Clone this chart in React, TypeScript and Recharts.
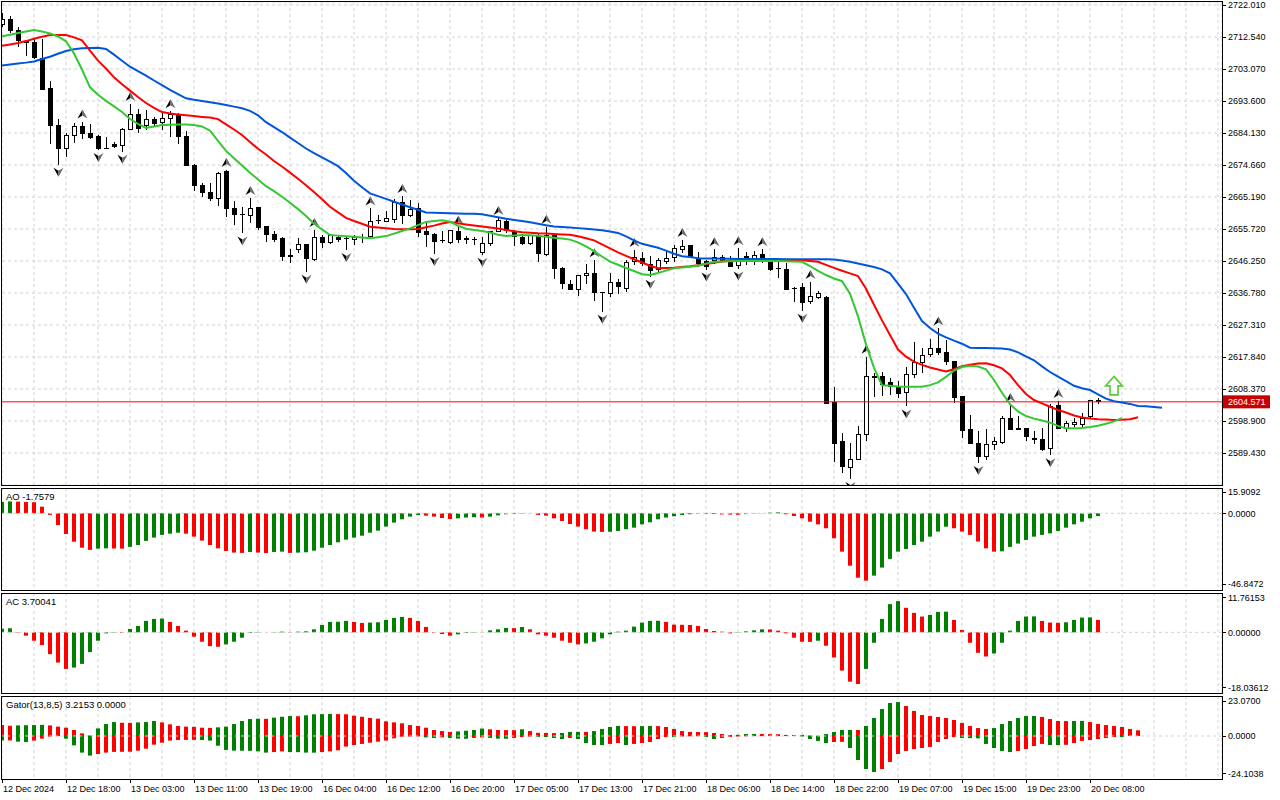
import React from "react";
import {
  ComposedChart,
  Bar,
  Line,
  XAxis,
  YAxis,
  CartesianGrid,
  ReferenceLine,
  ReferenceDot,
  Cell,
} from "recharts";

const FONT = "'Liberation Sans', Arial, sans-serif";
const GREEN = "#008000";
const RED = "#ff0000";
const GRID = "#d2d2d2";

// ---------- price candles (H1, 12 Dec 10:00 .. 20 Dec 09:00) ----------
const opens = [
  2716.1, 2717.8, 2714.6, 2711.2, 2710.9, 2706.2, 2697.3, 2686.4, 2679.6, 2683.5,
  2686.2, 2684.0, 2683.0, 2679.6, 2680.6, 2680.5, 2685.2, 2689.7, 2686.3, 2688.0,
  2687.2, 2688.3, 2689.5, 2683.0, 2674.6, 2668.6, 2666.6, 2664.8, 2672.6, 2661.8,
  2660.0, 2659.8, 2662.1, 2656.4, 2654.2, 2652.8, 2648.0, 2649.8, 2651.2, 2646.8,
  2653.3, 2651.7, 2653.3, 2652.8, 2652.6, 2653.0, 2653.5, 2658.0, 2658.0, 2658.6,
  2663.6, 2659.6, 2661.8, 2654.9, 2654.1, 2652.2, 2651.8, 2655.1, 2653.0, 2652.7,
  2648.7, 2651.5, 2654.9, 2657.9, 2654.9, 2653.3, 2651.5, 2653.7, 2648.3, 2653.7,
  2644.1, 2639.4, 2637.9, 2642.1, 2642.6, 2636.9, 2636.7, 2639.9, 2638.2, 2646.0,
  2647.0, 2645.3, 2643.6, 2646.0, 2647.3, 2649.7, 2650.7, 2647.0, 2646.0, 2646.5,
  2647.2, 2645.8, 2644.8, 2647.5, 2646.9, 2648.2, 2645.7, 2644.0, 2643.8, 2638.2,
  2638.4, 2634.4, 2635.5, 2635.5, 2604.4, 2592.8, 2585.1, 2587.6, 2594.9, 2612.2,
  2612.0, 2610.2, 2608.8, 2607.2, 2612.8, 2616.2, 2618.5, 2620.3, 2619.2, 2616.6,
  2606.1, 2596.3, 2592.3, 2588.3, 2591.8, 2592.5, 2599.5, 2596.6, 2596.6, 2593.8,
  2593.5, 2590.8, 2603.6, 2596.7, 2598.0, 2597.9, 2600.2, 2604.9,
];
const highs = [
  2719.5, 2718.8, 2715.4, 2711.8, 2711.9, 2711.9, 2699.5, 2688.3, 2684.2, 2687.0,
  2687.5, 2686.8, 2683.5, 2683.0, 2681.5, 2685.5, 2692.7, 2691.2, 2691.0, 2688.8,
  2690.0, 2690.6, 2690.0, 2684.7, 2674.9, 2669.4, 2669.4, 2672.5, 2673.2, 2664.0,
  2662.3, 2664.9, 2662.1, 2656.7, 2655.2, 2653.3, 2649.7, 2653.0, 2651.2, 2655.4,
  2654.0, 2654.2, 2654.0, 2653.3, 2654.0, 2654.2, 2661.8, 2659.8, 2661.1, 2664.5,
  2665.5, 2664.3, 2663.3, 2657.9, 2654.4, 2655.0, 2655.4, 2656.2, 2653.7, 2653.5,
  2653.5, 2655.1, 2659.0, 2658.4, 2655.4, 2654.0, 2654.0, 2654.4, 2656.4, 2654.4,
  2644.4, 2640.6, 2642.1, 2645.3, 2646.5, 2637.0, 2642.8, 2641.0, 2646.5, 2649.5,
  2648.8, 2647.6, 2647.0, 2649.4, 2651.0, 2652.5, 2651.0, 2649.0, 2646.6, 2649.7,
  2648.0, 2647.8, 2650.0, 2648.8, 2649.3, 2649.7, 2646.7, 2646.5, 2645.6, 2638.6,
  2639.8, 2640.0, 2637.5, 2636.0, 2609.0, 2595.4, 2592.3, 2597.4, 2617.9, 2613.0,
  2613.5, 2611.7, 2610.8, 2615.0, 2622.3, 2620.4, 2623.2, 2626.3, 2622.8, 2616.7,
  2606.1, 2600.7, 2596.0, 2596.5, 2594.3, 2600.5, 2603.6, 2600.5, 2596.6, 2595.8,
  2596.8, 2603.8, 2604.8, 2598.8, 2599.7, 2601.4, 2605.1, 2605.6,
];
const lows = [
  2715.5, 2713.8, 2709.5, 2707.0, 2705.9, 2696.8, 2680.9, 2674.7, 2677.1, 2681.3,
  2682.5, 2682.3, 2679.1, 2679.4, 2679.6, 2678.6, 2685.0, 2684.0, 2685.0, 2686.0,
  2685.0, 2683.0, 2680.8, 2674.6, 2666.9, 2665.1, 2664.0, 2662.6, 2659.3, 2656.9,
  2654.4, 2657.6, 2655.5, 2652.0, 2652.0, 2646.3, 2645.7, 2648.5, 2643.1, 2646.3,
  2650.2, 2651.3, 2652.0, 2649.5, 2651.0, 2651.7, 2653.3, 2657.2, 2657.9, 2657.6,
  2657.3, 2659.3, 2653.5, 2650.5, 2648.3, 2651.7, 2651.2, 2651.7, 2651.4, 2651.0,
  2648.1, 2650.8, 2654.7, 2654.4, 2650.7, 2651.0, 2651.0, 2646.0, 2647.7, 2640.8,
  2637.9, 2637.9, 2636.0, 2639.4, 2634.5, 2631.2, 2635.5, 2636.5, 2637.2, 2645.1,
  2644.9, 2641.6, 2643.0, 2645.3, 2646.0, 2648.7, 2647.2, 2644.6, 2643.7, 2645.5,
  2645.9, 2644.6, 2644.0, 2645.2, 2645.2, 2645.8, 2643.4, 2641.1, 2637.7, 2634.0,
  2631.5, 2633.5, 2635.0, 2603.8, 2586.9, 2583.6, 2581.7, 2587.3, 2592.9, 2606.1,
  2606.3, 2606.7, 2605.6, 2603.2, 2611.5, 2613.0, 2617.8, 2618.4, 2615.5, 2604.1,
  2594.0, 2592.1, 2586.5, 2587.5, 2590.3, 2592.0, 2596.2, 2596.2, 2592.9, 2592.1,
  2590.0, 2588.8, 2596.4, 2595.5, 2597.1, 2597.0, 2599.7, 2603.9,
];
const closes = [
  2717.8, 2714.6, 2711.4, 2710.8, 2706.5, 2697.1, 2686.3, 2679.6, 2683.5, 2686.2,
  2684.0, 2682.7, 2679.4, 2679.5, 2680.2, 2685.3, 2689.7, 2685.5, 2688.0, 2687.0,
  2688.3, 2689.5, 2683.0, 2674.6, 2668.5, 2666.5, 2664.6, 2672.2, 2661.8, 2660.0,
  2659.8, 2661.8, 2656.1, 2654.2, 2652.7, 2647.5, 2647.5, 2651.2, 2647.0, 2653.3,
  2651.7, 2653.7, 2652.7, 2652.7, 2653.3, 2653.2, 2657.9, 2658.2, 2658.8, 2663.6,
  2659.8, 2661.6, 2654.7, 2654.2, 2652.0, 2652.1, 2655.2, 2652.7, 2652.5, 2652.5,
  2651.5, 2654.9, 2658.1, 2655.2, 2653.6, 2651.3, 2653.7, 2648.5, 2653.7, 2644.1,
  2639.6, 2637.9, 2641.9, 2642.6, 2636.9, 2636.7, 2639.8, 2638.6, 2645.7, 2647.3,
  2645.4, 2643.4, 2646.3, 2647.0, 2650.0, 2650.5, 2647.5, 2645.5, 2644.7, 2647.3,
  2646.3, 2644.6, 2647.0, 2646.5, 2647.9, 2646.3, 2643.6, 2643.9, 2637.9, 2638.0,
  2634.0, 2635.7, 2636.5, 2604.1, 2592.3, 2585.4, 2587.5, 2595.0, 2612.0, 2611.7,
  2609.8, 2609.2, 2606.9, 2612.8, 2616.2, 2618.4, 2620.3, 2619.3, 2616.4, 2605.9,
  2596.0, 2592.3, 2588.3, 2591.8, 2592.8, 2599.7, 2596.4, 2596.3, 2594.2, 2593.5,
  2590.6, 2603.2, 2596.7, 2598.2, 2598.4, 2599.7, 2604.9, 2604.571,
];

// ---------- Alligator (shifted lines as displayed) ----------
const jaw = [
  2704.11, 2704.40, 2704.70, 2704.96, 2705.32, 2706.03, 2706.71, 2707.60, 2708.40, 2708.90,
  2709.23, 2709.28, 2709.37, 2709.02, 2707.33, 2705.53, 2703.75, 2702.45, 2701.12, 2699.67,
  2698.27, 2696.91, 2695.67, 2694.40, 2693.95, 2693.60, 2693.24, 2692.83, 2692.39, 2691.94,
  2691.44, 2690.70, 2689.37, 2687.32, 2685.87, 2684.42, 2682.77, 2681.17, 2679.54, 2678.21,
  2676.91, 2675.66, 2674.33, 2672.29, 2669.98, 2668.09, 2666.28, 2665.45, 2664.63, 2663.80,
  2662.97, 2662.17, 2661.40, 2660.60, 2660.51, 2660.45, 2660.39, 2660.33, 2660.27, 2660.22,
  2660.07, 2659.62, 2659.18, 2658.77, 2658.41, 2658.08, 2657.70, 2657.26, 2656.81, 2656.43,
  2656.28, 2656.13, 2655.98, 2655.78, 2655.57, 2655.36, 2655.01, 2654.56, 2653.56, 2652.37,
  2651.34, 2650.75, 2650.15, 2649.32, 2648.41, 2647.67, 2647.40, 2647.10, 2647.02, 2646.96,
  2646.93, 2646.90, 2646.84, 2646.84, 2646.84, 2646.84, 2646.84, 2646.81, 2646.78, 2646.78,
  2646.75, 2646.75, 2646.75, 2646.75, 2646.72, 2646.40, 2646.04, 2645.51, 2645.00, 2644.47,
  2643.79, 2642.61, 2639.53, 2636.45, 2632.40, 2628.49, 2626.42, 2624.76, 2623.64, 2622.69,
  2621.77, 2620.59, 2620.53, 2620.50, 2620.44, 2620.35, 2620.03, 2619.23, 2618.04, 2616.86,
  2615.08, 2613.40, 2612.03, 2610.67, 2609.31, 2608.57, 2608.07, 2606.80, 2605.52, 2604.73,
  2604.37, 2603.96, 2603.36, 2603.24, 2603.04, 2602.83,
];
const teeth = [
  2709.96, 2710.35, 2710.76, 2711.33, 2712.01, 2712.60, 2713.13, 2713.13, 2713.13, 2712.42,
  2711.56, 2708.54, 2705.53, 2703.22, 2700.61, 2698.54, 2696.68, 2694.78, 2693.01, 2691.59,
  2690.34, 2689.90, 2689.63, 2689.37, 2689.13, 2688.89, 2688.69, 2688.24, 2686.70, 2685.16,
  2683.54, 2681.49, 2679.45, 2677.77, 2675.84, 2674.21, 2672.41, 2670.57, 2668.68, 2666.67,
  2664.51, 2662.32, 2660.66, 2659.03, 2658.08, 2657.26, 2656.40, 2656.16, 2655.95, 2655.72,
  2655.63, 2655.63, 2655.72, 2656.22, 2656.72, 2657.35, 2657.82, 2657.43, 2657.08, 2656.75,
  2656.46, 2656.16, 2655.87, 2655.45, 2655.07, 2654.74, 2654.59, 2654.44, 2654.36, 2654.24,
  2654.12, 2654.00, 2653.59, 2653.00, 2652.37, 2651.19, 2650.01, 2648.82, 2647.79, 2646.78,
  2645.80, 2644.86, 2644.09, 2644.18, 2644.29, 2644.47, 2644.68, 2645.00, 2645.36, 2645.74,
  2646.10, 2646.31, 2646.48, 2646.54, 2646.54, 2646.54, 2646.54, 2646.54, 2646.54, 2646.54,
  2646.48, 2646.25, 2646.01, 2645.12, 2644.23, 2643.38, 2642.58, 2641.81, 2638.05, 2633.31,
  2628.67, 2624.35, 2620.03, 2617.95, 2616.47, 2615.50, 2614.73, 2614.13, 2613.54, 2614.23,
  2615.08, 2615.56, 2615.91, 2616.00, 2615.41, 2614.46, 2612.51, 2609.52, 2606.89, 2605.11,
  2604.13, 2603.13, 2602.15, 2601.41, 2600.52, 2599.93, 2599.61, 2599.40, 2599.31, 2599.22,
  2599.25, 2599.40, 2599.99,
];
const lips = [
  2712.75, 2713.22, 2713.72, 2714.20, 2714.58, 2714.17, 2713.58, 2712.69, 2711.27, 2707.66,
  2702.92, 2697.65, 2695.43, 2693.63, 2692.00, 2690.34, 2688.27, 2686.85, 2685.61, 2686.05,
  2686.53, 2686.59, 2686.64, 2686.67, 2686.53, 2686.08, 2684.81, 2681.82, 2678.83, 2676.64,
  2674.48, 2672.38, 2670.40, 2668.38, 2666.93, 2665.28, 2663.50, 2661.61, 2659.57, 2657.26,
  2655.60, 2653.94, 2653.76, 2653.59, 2653.41, 2653.20, 2652.97, 2653.29, 2653.62, 2654.36,
  2655.13, 2655.92, 2656.87, 2657.82, 2658.08, 2658.29, 2657.88, 2656.69, 2655.78, 2655.45,
  2655.13, 2654.68, 2654.03, 2653.68, 2653.79, 2653.94, 2653.85, 2653.71, 2653.44, 2653.14,
  2652.88, 2652.58, 2651.78, 2650.60, 2649.18, 2647.58, 2646.04, 2645.15, 2644.18, 2643.29,
  2642.34, 2642.10, 2642.70, 2643.41, 2644.12, 2644.32, 2644.56, 2644.86, 2645.48, 2646.04,
  2646.10, 2646.16, 2646.25, 2646.25, 2646.25, 2646.25, 2646.25, 2646.22, 2646.16, 2646.10,
  2646.01, 2644.77, 2643.35, 2642.10, 2641.07, 2640.27, 2636.60, 2629.85, 2621.57, 2614.64,
  2609.49, 2609.31, 2609.11, 2609.05, 2609.05, 2609.05, 2609.52, 2610.32, 2611.95, 2613.84,
  2614.88, 2615.26, 2615.02, 2614.17, 2611.03, 2607.27, 2603.87, 2601.74, 2600.37, 2599.61,
  2599.04, 2598.42, 2597.47, 2596.73, 2596.73, 2596.82, 2597.12, 2597.50, 2598.07, 2598.78,
  2599.70,
];

// ---------- fractals (bar indexes) ----------
const fractalUpBars = [10, 16, 21, 28, 31, 39, 46, 50, 57, 62, 68, 74, 79, 85, 89, 92, 95, 101, 108, 117, 126, 132];
const fractalDownBars = [7, 12, 15, 30, 38, 43, 54, 60, 75, 81, 88, 92, 100, 106, 113, 122, 131];

// ---------- signal arrow ----------
const signalBar = 139;
const signalPrice = 2609.3;
const lastPrice = 2604.571;

// ---------- Awesome Oscillator ----------
const ao = [
  7.2, 7.5, 7.4, 7.2, 7.0, 4.2, -1.0, -7.4, -13.1, -18.0,
  -21.8, -23.2, -22.4, -22.2, -22.3, -22.4, -21.3, -20.1, -17.5, -15.4,
  -13.7, -12.9, -12.3, -12.9, -14.8, -17.3, -20.1, -22.2, -23.9, -24.9,
  -25.1, -24.5, -24.9, -25.2, -24.5, -24.3, -25.1, -24.9, -24.7, -23.7,
  -21.8, -20.1, -18.4, -16.7, -15.4, -14.2, -12.3, -11.0, -8.4, -5.9,
  -3.8, -2.1, -1.1, -1.5, -2.1, -3.0, -3.6, -3.2, -2.7, -2.5,
  -2.7, -2.1, -1.3, -0.6, -0.4, -0.2, -0.1, -1.0, -1.5, -3.2,
  -4.9, -6.8, -8.4, -10.1, -11.6, -11.8, -11.7, -11.2, -10.1, -9.1,
  -7.0, -5.7, -3.8, -2.7, -1.9, -1.1, -0.6, -0.3, -0.4, -0.5,
  -0.7, -0.8, -0.9, -0.5, -0.2, 0.1, 0.4, 0.6, -0.6, -1.7,
  -3.2, -5.3, -7.0, -9.5, -15.8, -24.3, -33.2, -40.8, -42.7, -39.5,
  -34.4, -28.9, -24.3, -22.6, -20.1, -18.0, -14.8, -11.6, -8.5, -9.5,
  -11.6, -13.7, -17.9, -22.2, -24.3, -24.1, -21.3, -19.2, -16.9, -14.8,
  -13.7, -12.7, -11.2, -9.1, -7.0, -5.3, -3.2, -1.7579,
];

// ---------- Accelerator Oscillator ----------
const ac = [
  1.1, 1.2, -0.1, -1.0, -2.5, -3.8, -6.5, -9.0, -10.9, -10.5,
  -9.4, -5.9, -2.5, -0.3, -0.1, -0.2, 1.0, 1.9, 3.4, 4.0,
  4.1, 3.1, 1.9, 0.5, -1.3, -2.8, -4.1, -4.3, -3.6, -2.8,
  -1.6, -0.2, -0.1, 0.0, 0.1, 0.2, 0.1, 0.2, 0.3, 0.9,
  2.2, 3.1, 3.15, 3.4, 3.1, 2.8, 2.9, 3.0, 3.7, 4.3,
  4.6, 4.3, 3.4, 1.6, -0.2, -0.5, -1.0, -0.6, -0.2, 0.1,
  0.05, 0.6, 0.9, 1.3, 1.25, 1.6, 0.9, -0.6, -1.0, -1.6,
  -2.5, -3.1, -3.6, -3.3, -2.8, -1.8, -0.6, 0.2, 0.5, 1.7,
  2.9, 3.4, 3.45, 3.1, 2.3, 2.25, 2.2, 1.9, 1.0, 0.4,
  0.2, -0.3, -0.1, 0.3, 0.6, 0.9, 0.85, 0.5, -0.3, -1.6,
  -2.8, -2.85, -2.5, -4.0, -7.5, -11.4, -14.7, -15.4, -10.9, -3.1,
  4.0, 8.4, 9.3, 7.3, 5.8, 4.7, 5.2, 6.1, 6.15, 3.7,
  0.7, -3.1, -6.1, -7.2, -6.3, -3.1, 0.5, 3.4, 4.7, 4.75,
  3.4, 2.9, 2.85, 3.0, 3.7, 4.4, 4.45, 3.70041,
];

// ---------- Gator Oscillator ----------
const gatorUp = [
  6.2, 5.8, 6.0, 6.1, 6.2, 6.3, 6.0, 5.3, 4.7, 3.4,
  1.5, 0.3, 4.3, 6.8, 7.9, 7.5, 7.4, 7.7, 7.9, 8.5,
  7.7, 6.6, 5.7, 5.3, 5.2, 4.7, 4.6, 4.9, 5.3, 6.8,
  8.5, 9.6, 9.8, 9.7, 10.4, 10.9, 11.3, 11.2, 11.7, 12.3,
  12.4, 12.5, 12.4, 12.3, 11.5, 10.9, 10.2, 9.8, 8.3, 7.7,
  7.2, 6.2, 5.7, 4.7, 3.4, 2.8, 2.3, 2.6, 3.0, 3.4,
  4.2, 3.8, 3.4, 3.35, 3.3, 3.8, 2.8, 1.8, 1.7, 1.65,
  1.7, 2.3, 2.35, 2.3, 2.8, 4.0, 5.1, 5.7, 5.6, 5.55,
  5.6, 5.7, 5.6, 5.1, 4.0, 2.8, 2.3, 2.25, 2.2, 1.7,
  1.1, 0.6, 0.65, 1.1, 1.15, 1.1, 1.05, 1.0, 0.6, 0.55,
  0.6, 0.3, 0.2, 1.1, 2.3, 3.4, 3.45, 3.4, 5.7, 10.2,
  15.3, 18.7, 19.2, 17.0, 14.2, 11.9, 11.3, 10.8, 10.2, 9.1,
  7.4, 5.7, 4.5, 4.0, 4.5, 6.8, 8.5, 10.2, 11.3, 11.35,
  10.8, 9.6, 8.5, 8.45, 8.5, 8.55, 7.9, 6.8, 6.2, 5.7,
  5.1, 4.0, 3.2153,
];
const gatorDown = [
  -2.6, -2.5, -3.2, -3.4, -2.6, -1.5, -0.4, -0.1, -1.5, -5.3,
  -9.4, -11.1, -10.2, -9.4, -9.0, -8.95, -8.9, -8.3, -7.2, -4.9,
  -3.8, -2.6, -2.3, -2.25, -2.2, -2.3, -2.6, -5.5, -7.9, -8.3,
  -8.35, -8.4, -8.7, -9.4, -9.1, -8.7, -9.1, -9.15, -9.4, -9.45,
  -9.1, -8.7, -8.1, -6.0, -5.1, -4.5, -3.8, -3.2, -2.6, -1.3,
  -0.4, -0.35, -0.3, -0.8, -1.1, -0.8, -1.1, -1.5, -1.55, -1.1,
  -0.8, -1.1, -1.5, -1.55, -1.1, -0.6, -0.4, -0.5, -0.6, -1.1,
  -1.7, -1.1, -1.7, -4.0, -5.1, -5.15, -4.5, -4.0, -5.1, -4.5,
  -4.0, -3.4, -1.7, -0.6, -0.65, -0.3, -0.2, -0.15, -0.6, -1.7,
  -1.1, -0.5, -0.3, -0.2, -0.1, -0.1, -0.05, -0.1, -0.05, -0.02,
  -0.3, -1.7, -2.8, -4.0, -3.4, -3.3, -6.8, -13.6, -18.7, -20.4,
  -18.7, -14.7, -10.2, -8.5, -7.4, -6.8, -6.2, -3.4, -1.7, -0.6,
  -1.1, -1.2, -1.3, -4.5, -6.8, -8.5, -9.1, -8.5, -7.4, -5.7,
  -4.5, -5.1, -5.15, -5.0, -4.0, -2.8, -2.3, -1.7, -1.1, -0.6,
  -0.65, 0, 0,
];

// ---------- axis tick labels ----------
const priceTicks = [
  2722.01, 2712.54, 2703.07, 2693.6, 2684.13, 2674.66, 2665.19, 2655.72,
  2646.25, 2636.78, 2627.31, 2617.84, 2608.37, 2598.9, 2589.43,
];
const aoTicks = [15.9092, 0, -46.8472];
const acTicks = [11.76153, 0, -18.03612];
const gatorTicks = [23.07, 0, -24.1038];
const timeLabelBars = [0, 8, 16, 24, 32, 40, 48, 56, 64, 72, 80, 88, 96, 104, 112, 120, 128, 136];
const timeLabels = [
  "12 Dec 2024", "12 Dec 18:00", "13 Dec 03:00", "13 Dec 11:00", "13 Dec 19:00",
  "16 Dec 04:00", "16 Dec 12:00", "16 Dec 20:00", "17 Dec 05:00", "17 Dec 13:00",
  "17 Dec 21:00", "18 Dec 06:00", "18 Dec 14:00", "18 Dec 22:00", "19 Dec 07:00",
  "19 Dec 15:00", "19 Dec 23:00", "20 Dec 08:00",
];

// ---------- tables for the library ----------
const X_DOMAIN: [number, number] = [0, 152.5];
const gridTicks = Array.from({ length: 39 }, (_, k) => k * 4);
const upSet = new Set(fractalUpBars);
const downSet = new Set(fractalDownBars);

const mainRows = jaw.map((j, i) => ({
  i,
  o: opens[i],
  h: highs[i],
  l: lows[i],
  c: closes[i],
  range: i < opens.length ? [lows[i], highs[i]] : null,
  jaw: j,
  teeth: i < teeth.length ? teeth[i] : null,
  lips: i < lips.length ? lips[i] : null,
}));
const aoRows = ao.map((v, i) => ({ i, v }));
const acRows = ac.map((v, i) => ({ i, v }));
const gatorRows = gatorUp.map((u, i) => ({ i, u, d: gatorDown[i] }));

const risingColor = (arr: number[], i: number, first: string) =>
  i === 0 ? first : arr[i] > arr[i - 1] ? GREEN : RED;
const wideningColor = (arr: number[], i: number, first: string) =>
  i === 0 ? first : Math.abs(arr[i]) > Math.abs(arr[i - 1]) ? GREEN : RED;

// ---------- shapes ----------
function Candle(props: any) {
  const { x, y, width, height, payload } = props;
  if (!payload || payload.o == null || payload.h == null) return null;
  const { o, h, l, c, i } = payload;
  const top = Math.min(y, y + height);
  const span = Math.abs(height);
  const py = (p: number) => top + ((h - p) / (h - l || 1)) * span;
  const cx = Math.round(x + width / 2);
  const yHigh = py(h);
  const yLow = py(l);
  const bTop = py(Math.max(o, c));
  const bBot = py(Math.min(o, c));
  const bull = c > o;
  const bodyH = Math.max(bBot - bTop, 0);
  return (
    <g shapeRendering="crispEdges">
      <line x1={cx + 0.5} x2={cx + 0.5} y1={yHigh} y2={yLow} stroke="#000" strokeWidth={1} />
      {bodyH < 1 ? (
        <line x1={cx - 2} x2={cx + 3} y1={bTop} y2={bTop} stroke="#000" strokeWidth={1} />
      ) : (
        <rect
          x={cx - 1.5}
          y={bTop}
          width={4}
          height={bodyH}
          fill={bull ? "#fff" : "#000"}
          stroke="#000"
          strokeWidth={1}
        />
      )}
      {upSet.has(i) && (
        <g shapeRendering="auto">
          <polygon points={`${cx + 0.5},${yHigh - 12} ${cx - 4.5},${yHigh - 3} ${cx + 0.5},${yHigh - 6}`} fill="#000" />
          <polygon points={`${cx + 0.5},${yHigh - 12} ${cx + 5.5},${yHigh - 3} ${cx + 0.5},${yHigh - 6}`} fill="#6a6a6a" />
        </g>
      )}
      {downSet.has(i) && (
        <g shapeRendering="auto">
          <polygon points={`${cx + 0.5},${yLow + 12} ${cx - 4.5},${yLow + 3} ${cx + 0.5},${yLow + 6}`} fill="#000" />
          <polygon points={`${cx + 0.5},${yLow + 12} ${cx + 5.5},${yLow + 3} ${cx + 0.5},${yLow + 6}`} fill="#6a6a6a" />
        </g>
      )}
    </g>
  );
}

function SignalArrow({ cx, cy }: { cx: number; cy: number }) {
  const pts = [
    [cx, cy - 9.5],
    [cx + 8.5, cy],
    [cx + 4, cy],
    [cx + 4, cy + 9],
    [cx - 4, cy + 9],
    [cx - 4, cy],
    [cx - 8.5, cy],
  ]
    .map((p) => p.join(","))
    .join(" ");
  return (
    <g>
      <polygon points={pts} fill="#ffffff" stroke="#55cc33" strokeWidth={1.6} strokeLinejoin="miter" />
    </g>
  );
}

function PriceTag(props: any) {
  const vb = props.viewBox || {};
  const x = (vb.x || 0) + (vb.width || 0);
  const y = vb.y || 0;
  return (
    <g>
      <rect x={x + 1} y={y - 6.5} width={47} height={13} fill="#c80000" />
      <text x={x + 6} y={y} dy="0.36em" fontSize={9} fontFamily={FONT} fill="#fff">
        {lastPrice.toFixed(3)}
      </text>
    </g>
  );
}

function AxisTick(props: any) {
  const { x, y, payload, digits, maxV, minV, topShift = 0, bottomShift = 0 } = props;
  const v = payload.value as number;
  let ty = y;
  if (maxV != null && v === maxV) ty += topShift;
  if (minV != null && v === minV) ty += bottomShift;
  const yy = Math.round(ty) + 0.5;
  return (
    <g>
      <line x1={x} x2={x + 4} y1={yy} y2={yy} stroke="#000" strokeWidth={1} shapeRendering="crispEdges" />
      <text x={x + 6} y={ty} dy="0.36em" fontSize={9} fontFamily={FONT} fill="#000" textAnchor="start">
        {v.toFixed(digits)}
      </text>
    </g>
  );
}

function TimeTick(props: any) {
  const { x, y, payload } = props;
  const k = timeLabelBars.indexOf(payload.value);
  if (k < 0) return null;
  const xx = Math.round(x) + 0.5;
  return (
    <g>
      <line x1={xx} x2={xx} y1={y} y2={y + 4} stroke="#000" strokeWidth={1} shapeRendering="crispEdges" />
      <text x={x + 1} y={y + 13} fontSize={9} fontFamily={FONT} fill="#000" textAnchor="start">
        {timeLabels[k]}
      </text>
    </g>
  );
}

const MARGIN = { top: 0, right: 0, bottom: 0, left: 2 };

function IndicatorPanel({
  top,
  height,
  data,
  domain,
  ticks,
  digits,
  shifts,
  children,
  bottomAxis,
  stacked,
}: any) {
  return (
    <div style={{ position: "absolute", left: 0, top, width: 1280, height, overflow: "hidden" }}>
      <ComposedChart
        width={1280}
        height={height}
        data={data}
        margin={MARGIN}
        stackOffset={stacked ? "sign" : undefined}
      >
        <CartesianGrid stroke={GRID} strokeDasharray="3 3" horizontal={false} />
        {bottomAxis ? (
          <XAxis
            dataKey="i"
            type="number"
            domain={X_DOMAIN}
            ticks={gridTicks}
            allowDataOverflow
            interval={0}
            height={21}
            axisLine={false}
            tickLine={false}
            tickSize={0}
            tickMargin={0}
            tick={(p: any) => <TimeTick {...p} />}
          />
        ) : (
          <XAxis dataKey="i" type="number" domain={X_DOMAIN} ticks={gridTicks} allowDataOverflow hide />
        )}
        <YAxis
          orientation="right"
          type="number"
          domain={domain}
          ticks={ticks}
          allowDataOverflow
          interval={0}
          width={58}
          axisLine={false}
          tickLine={false}
          tickSize={0}
          tickMargin={0}
          tick={(p: any) => (
            <AxisTick
              {...p}
              digits={digits}
              maxV={ticks[0]}
              minV={ticks[ticks.length - 1]}
              topShift={shifts[0]}
              bottomShift={shifts[1]}
            />
          )}
        />
        <ReferenceLine y={0} stroke={GRID} strokeDasharray="3 3" />
        {children}
      </ComposedChart>
    </div>
  );
}

export default function App() {
  return (
    <div
      style={{
        position: "absolute",
        left: 0,
        top: 0,
        width: 1280,
        height: 800,
        background: "#fff",
        overflow: "hidden",
        fontFamily: FONT,
      }}
    >
      {/* main price panel */}
      <div style={{ position: "absolute", left: 0, top: 0, width: 1280, height: 486, overflow: "hidden" }}>
        <ComposedChart width={1280} height={486} data={mainRows} margin={{ top: 2, right: 0, bottom: 1, left: 2 }}>
          <CartesianGrid stroke={GRID} strokeDasharray="3 3" />
          <XAxis dataKey="i" type="number" domain={X_DOMAIN} ticks={gridTicks} allowDataOverflow hide />
          <YAxis
            orientation="right"
            type="number"
            domain={[2579.96, 2722.9]}
            ticks={priceTicks}
            allowDataOverflow
            interval={0}
            width={58}
            axisLine={false}
            tickLine={false}
            tickSize={0}
            tickMargin={0}
            tick={(p: any) => <AxisTick {...p} digits={3} />}
          />
          <ReferenceLine y={lastPrice} stroke={RED} strokeWidth={1} label={(p: any) => <PriceTag {...p} />} />
          <Bar dataKey="range" barSize={5} isAnimationActive={false} shape={(p: any) => <Candle {...p} />} />
          <Line dataKey="jaw" type="linear" stroke="#0055dd" strokeWidth={2} dot={false} activeDot={false} isAnimationActive={false} />
          <Line dataKey="teeth" type="linear" stroke="#ff0000" strokeWidth={2} dot={false} activeDot={false} isAnimationActive={false} />
          <Line dataKey="lips" type="linear" stroke="#33c833" strokeWidth={2} dot={false} activeDot={false} isAnimationActive={false} />
          <ReferenceDot
            x={signalBar}
            y={signalPrice}
            r={0}
            shape={(p: any) => <SignalArrow cx={p.cx} cy={p.cy} />}
          />
        </ComposedChart>
      </div>

      {/* AO */}
      <IndicatorPanel top={488} height={103} data={aoRows} domain={[-49.24, 16.03]} ticks={aoTicks} digits={4} shifts={[4, -3]}>
        <Bar dataKey="v" barSize={4} isAnimationActive={false}>
          {aoRows.map((r, k) => (
            <Cell key={k} fill={risingColor(ao, k, GREEN)} />
          ))}
        </Bar>
      </IndicatorPanel>

      {/* AC */}
      <IndicatorPanel top={593} height={101} data={acRows} domain={[-18.37, 11.716]} ticks={acTicks} digits={5} shifts={[4.5, -5.5]}>
        <Bar dataKey="v" barSize={4} isAnimationActive={false}>
          {acRows.map((r, k) => (
            <Cell key={k} fill={risingColor(ac, k, GREEN)} />
          ))}
        </Bar>
      </IndicatorPanel>

      {/* Gator */}
      <IndicatorPanel
        top={696}
        height={104}
        data={gatorRows}
        domain={[-24.35, 22.65]}
        ticks={gatorTicks}
        digits={4}
        shifts={[5.5, -5.3]}
        bottomAxis
        stacked
      >
        <Bar dataKey="u" stackId="g" barSize={4} isAnimationActive={false}>
          {gatorRows.map((r, k) => (
            <Cell key={k} fill={risingColor(gatorUp, k, RED)} />
          ))}
        </Bar>
        <Bar dataKey="d" stackId="g" barSize={4} isAnimationActive={false}>
          {gatorRows.map((r, k) => (
            <Cell key={k} fill={wideningColor(gatorDown, k, GREEN)} />
          ))}
        </Bar>
      </IndicatorPanel>

      {/* frames and panel titles */}
      <svg
        width={1280}
        height={800}
        style={{ position: "absolute", left: 0, top: 0, pointerEvents: "none" }}
      >
        <g fill="none" stroke="#000" strokeWidth={1} shapeRendering="crispEdges">
          <rect x={1.5} y={1.5} width={1221} height={484} />
          <rect x={1.5} y={488.5} width={1221} height={102} />
          <rect x={1.5} y={593.5} width={1221} height={100} />
          <rect x={1.5} y={696.5} width={1221} height={83} />
        </g>
        <g fontSize={9.5} fontFamily={FONT} fill="#000">
          <text x={6} y={500}>{`AO ${ao[ao.length - 1].toFixed(4)}`}</text>
          <text x={6} y={605}>{`AC ${ac[ac.length - 1].toFixed(5)}`}</text>
          <text x={6} y={707.5}>{`Gator(13,8,5) ${gatorUp[gatorUp.length - 1].toFixed(4)} ${gatorDown[gatorDown.length - 1].toFixed(4)}`}</text>
        </g>
      </svg>
    </div>
  );
}
